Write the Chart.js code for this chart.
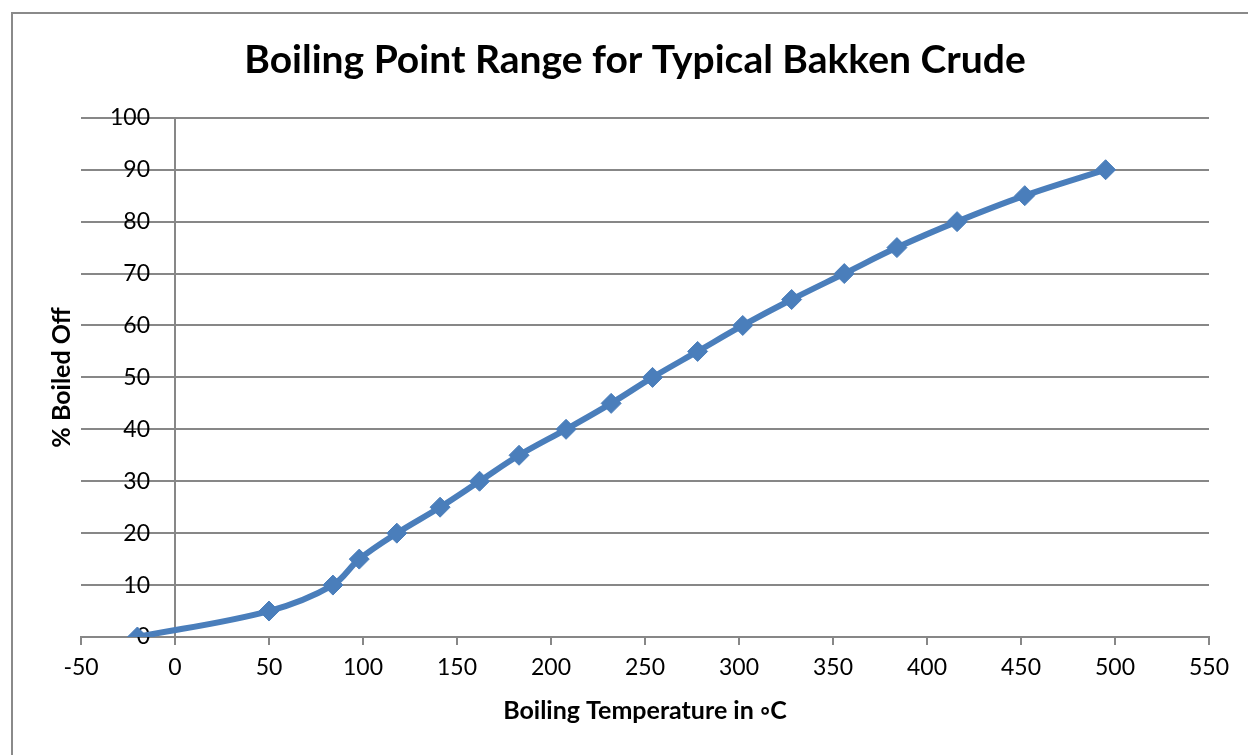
<!DOCTYPE html>
<html>
<head>
<meta charset="utf-8">
<title>Boiling Point Range for Typical Bakken Crude</title>
<script src="https://cdn.jsdelivr.net/npm/chart.js@4/dist/chart.umd.min.js"></script>
<style>
  html, body { margin: 0; padding: 0; background: #fff; overflow: hidden; }
  #frame {
    position: absolute; left: 11px; top: 12px;
    width: 1300px; height: 800px;
    border: 2px solid #8a8a8a; box-sizing: border-box;
  }
  #chart { position: absolute; left: 0; top: 0; }
</style>
</head>
<body>
<div id="frame"></div>
<canvas id="chart" width="1248" height="755"></canvas>
<script>
const temps = [-20, 50, 84, 98, 118, 141, 162, 183, 208, 232, 254, 278, 302, 328, 356, 384, 416, 452, 495];
const boiledOff = [0, 5, 10, 15, 20, 25, 30, 35, 40, 45, 50, 55, 60, 65, 70, 75, 80, 85, 90];

const titleText = 'Boiling Point Range for Typical Bakken Crude';
const xTitle = 'Boiling Temperature in \u25E6C';
const yTitle = '% Boiled Off';

const gray = '#878787';
const blue = '#4a7ebb';
const font = 'Lato, "Open Sans", sans-serif';
const tickSize = 23;

const points = temps.map((t, i) => ({ x: t, y: boiledOff[i] }));

const ctx = document.getElementById('chart').getContext('2d');

// y labels sit inside the plot, right edge near x = 150px (excel style)
ctx.font = tickSize + 'px ' + font;
const widest = ctx.measureText('100').width;
const yLabelPad = 150 - 81 - widest;

new Chart(ctx, {
    type: 'line',
    data: {
        datasets: [{
            data: points,
            borderColor: blue,
            backgroundColor: blue,
            borderWidth: 6,
            tension: 0.35,
            pointStyle: 'rectRot',
            pointRadius: 10,
            pointBorderWidth: 1,
            pointBackgroundColor: blue,
            pointBorderColor: blue
        }]
    },
    options: {
        responsive: false,
        animation: false,
        layout: { padding: { left: 61, right: 39, top: 0, bottom: 0 } },
        plugins: {
            legend: { display: false },
            tooltip: { enabled: false },
            title: {
                display: true,
                text: titleText,
                color: '#000',
                font: { family: font, size: 39, weight: 'bold', lineHeight: 1.2 },
                padding: { top: 37, bottom: 34 }
            }
        },
        scales: {
            x: {
                type: 'linear',
                min: -50,
                max: 550,
                afterFit: (scale) => { scale.height = 118; },
                ticks: {
                    stepSize: 50,
                    color: '#000',
                    padding: 9,
                    font: { family: font, size: tickSize }
                },
                grid: {
                    // only the line at x = 0 shows on the plot (it acts as the y axis)
                    color: (c) => (c.tick && c.tick.value === 0) ? gray : 'rgba(0,0,0,0)',
                    tickColor: gray,
                    lineWidth: 2,
                    drawTicks: true,
                    tickLength: 8
                },
                border: { display: true, color: gray, width: 2 },
                title: {
                    display: true,
                    text: xTitle,
                    color: '#000',
                    font: { family: font, size: 25, weight: 'bold', lineHeight: 1.2 },
                    padding: { top: 0, bottom: 29 }
                }
            },
            y: {
                min: 0,
                max: 100,
                afterFit: (scale) => { scale.width = 20; },
                ticks: {
                    stepSize: 10,
                    color: '#000',
                    mirror: true,
                    crossAlign: 'far',
                    padding: yLabelPad,
                    font: { family: font, size: tickSize }
                },
                grid: { color: gray, lineWidth: 2, drawTicks: false },
                border: { display: false },
                title: {
                    display: true,
                    text: yTitle,
                    color: '#000',
                    font: { family: font, size: 25, weight: 'bold', lineHeight: 1.2 },
                    padding: { top: -14, bottom: 0 }
                }
            }
        }
    }
});
</script>
</body>
</html>
